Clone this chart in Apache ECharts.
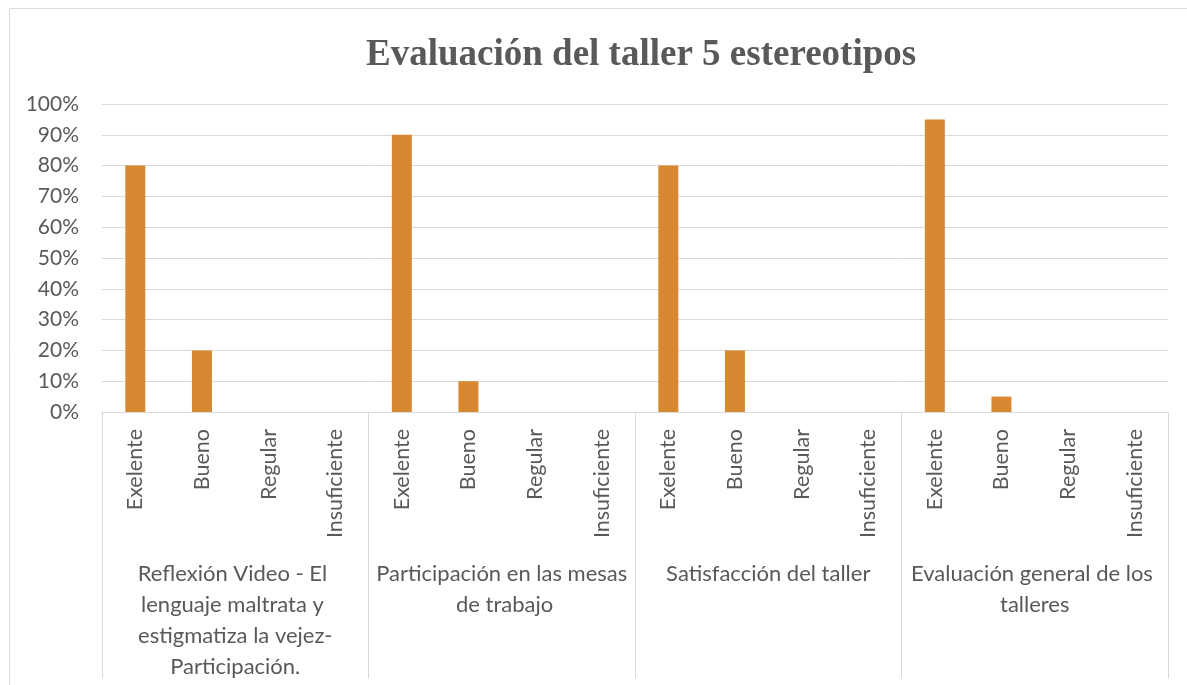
<!DOCTYPE html>
<html>
<head>
<meta charset="utf-8">
<script src="https://cdn.jsdelivr.net/npm/echarts@6/dist/echarts.min.js"></script>
<style>
  html, body { margin: 0; padding: 0; background: #ffffff; }
  #chart { width: 1187px; height: 685px; }
</style>
</head>
<body>
<div id="chart"></div>
<script>
// Rating options repeated under each evaluated activity
const ratings = ['Exelente', 'Bueno', 'Regular', 'Insuficiente'];
// Evaluated activities (outer category level); the hyphenated name wraps after "vejez-"
const groups = [
  'Reflexión Video - El lenguaje maltrata y estigmatiza la vejez-\nParticipación.',
  'Participación en las mesas de trabajo',
  'Satisfacción del taller',
  'Evaluación general de los talleres'
];
// Share of responses per rating, one array per activity
const reflexionVideo = [0.80, 0.20, 0, 0];
const participacionMesas = [0.90, 0.10, 0, 0];
const satisfaccionTaller = [0.80, 0.20, 0, 0];
const evaluacionGeneral = [0.95, 0.05, 0, 0];
// Value axis ticks
const yMin = 0, yMax = 1, yStep = 0.1;

const blocks = [reflexionVideo, participacionMesas, satisfaccionTaller, evaluacionGeneral];
const innerCats = [];
const values = [];
blocks.forEach(function (b) {
  ratings.forEach(function (r, i) { innerCats.push(r); values.push(b[i]); });
});

const textColor = '#595959';
const lineColor = '#D9D9D9';
const fontFamily = 'Lato, "Open Sans", sans-serif';

const chart = echarts.init(document.getElementById('chart'));
chart.setOption({
  animation: false,
  backgroundColor: '#ffffff',
  title: {
    text: 'Evaluación del taller 5 estereotipos',
    left: 361,
    top: 32,
    textStyle: {
      fontFamily: '"Liberation Serif", "Times New Roman", serif',
      fontWeight: 'bold',
      fontSize: 37,
      color: textColor
    }
  },
  graphic: [{
    type: 'rect',
    silent: true,
    shape: { x: 9.5, y: 8.5, width: 1200, height: 700 },
    style: { fill: 'none', stroke: lineColor, lineWidth: 1 }
  }],
  grid: { left: 102, right: 19, top: 104, bottom: 273, containLabel: false },
  xAxis: [{
    type: 'category',
    data: innerCats,
    position: 'bottom',
    axisLine: { show: true, lineStyle: { color: lineColor, width: 1 } },
    axisTick: { show: false },
    axisLabel: {
      interval: 0,
      rotate: 90,
      margin: 17,
      color: textColor,
      fontFamily: fontFamily,
      fontSize: 21.5
    },
    splitLine: { show: false }
  }, {
    type: 'category',
    data: groups,
    position: 'bottom',
    axisLine: { show: false },
    axisTick: { show: true, interval: 0, length: 266, lineStyle: { color: lineColor, width: 1 } },
    axisLabel: {
      interval: 0,
      margin: 146,
      color: textColor,
      fontFamily: fontFamily,
      fontSize: 22,
      lineHeight: 31,
      width: 262,
      overflow: 'break',
      align: 'center'
    }
  }],
  yAxis: {
    type: 'value',
    min: yMin,
    max: yMax,
    interval: yStep,
    axisLine: { show: false },
    axisTick: { show: false },
    axisLabel: {
      margin: 23,
      color: textColor,
      fontFamily: fontFamily,
      fontSize: 21,
      formatter: function (v) { return Math.round(v * 100) + '%'; }
    },
    splitLine: { show: true, lineStyle: { color: lineColor, width: 1 } }
  },
  series: [{
    type: 'bar',
    xAxisIndex: 0,
    data: values,
    barWidth: '30%',
    itemStyle: { color: '#D78831' }
  }]
});
</script>
</body>
</html>
